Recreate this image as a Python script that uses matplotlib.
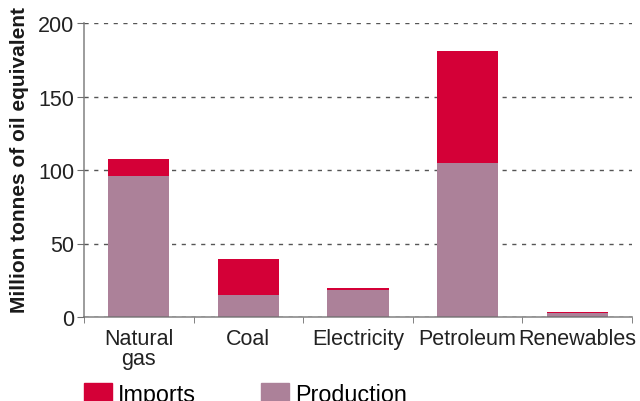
import matplotlib.pyplot as plt
from matplotlib.patches import Patch

categories = ["Natural\ngas", "Coal", "Electricity", "Petroleum", "Renewables"]
production = [96, 15, 18.5, 104.5, 2.8]
imports = [11.5, 24.5, 1.5, 76.5, 0.8]
yticks = [0, 50, 100, 150, 200]

RED = "#D40037"
PURPLE = "#AC8199"
GREY = "#6E6E6E"

plt.rcParams["font.family"] = ["Liberation Sans", "DejaVu Sans"]

fig = plt.figure(figsize=(6.4, 4.02), dpi=100)
ax = fig.add_axes([84 / 640, 84 / 402, 548 / 640, 294 / 402])

x = list(range(len(categories)))
ax.bar(x, production, width=0.56, color=PURPLE, zorder=2)
ax.bar(x, imports, width=0.56, bottom=production, color=RED, zorder=2)

ax.set_xlim(-0.5, len(categories) - 0.5)
ax.set_ylim(0, 200)
ax.set_yticks(yticks)
ax.set_yticklabels([str(t) for t in yticks], fontsize=15.5, color="#222222")
ax.set_xticks(x)
ax.set_xticklabels(categories, fontsize=15.5, color="#222222", linespacing=0.95)
ax.tick_params(axis="x", length=0, pad=8)
ax.set_xticks([i + 0.5 for i in range(-1, len(categories))], minor=True)
ax.tick_params(axis="x", which="minor", length=4, direction="out", color=GREY)
ax.tick_params(axis="y", length=5, direction="out", color=GREY, pad=2)

ax.yaxis.grid(True, linestyle=(0, (3, 4)), color="#555555", linewidth=1)
ax.set_axisbelow(True)
for side in ["top", "right"]:
    ax.spines[side].set_visible(False)
for side in ["left", "bottom"]:
    ax.spines[side].set_color(GREY)
    ax.spines[side].set_linewidth(1.2)
    ax.spines[side].set_alpha(0.8)
    ax.spines[side].set_zorder(3)

ax.set_ylabel("Million tonnes of oil equivalent", fontsize=15, fontweight="bold", color="#1a1a1a")
ax.yaxis.set_label_coords(-0.100, 0.537)

handles = [Patch(color=RED, label="Imports"), Patch(color=PURPLE, label="Production")]
fig.legend(handles=handles, loc="upper left", bbox_to_anchor=(84 / 640, 1 - 384 / 402),
           ncol=2, frameon=False, fontsize=16.8, handlelength=1.2, handleheight=0.9,
           handletextpad=0.25, columnspacing=2.8, borderaxespad=0, borderpad=0)

fig.savefig("out.png", dpi=100)
